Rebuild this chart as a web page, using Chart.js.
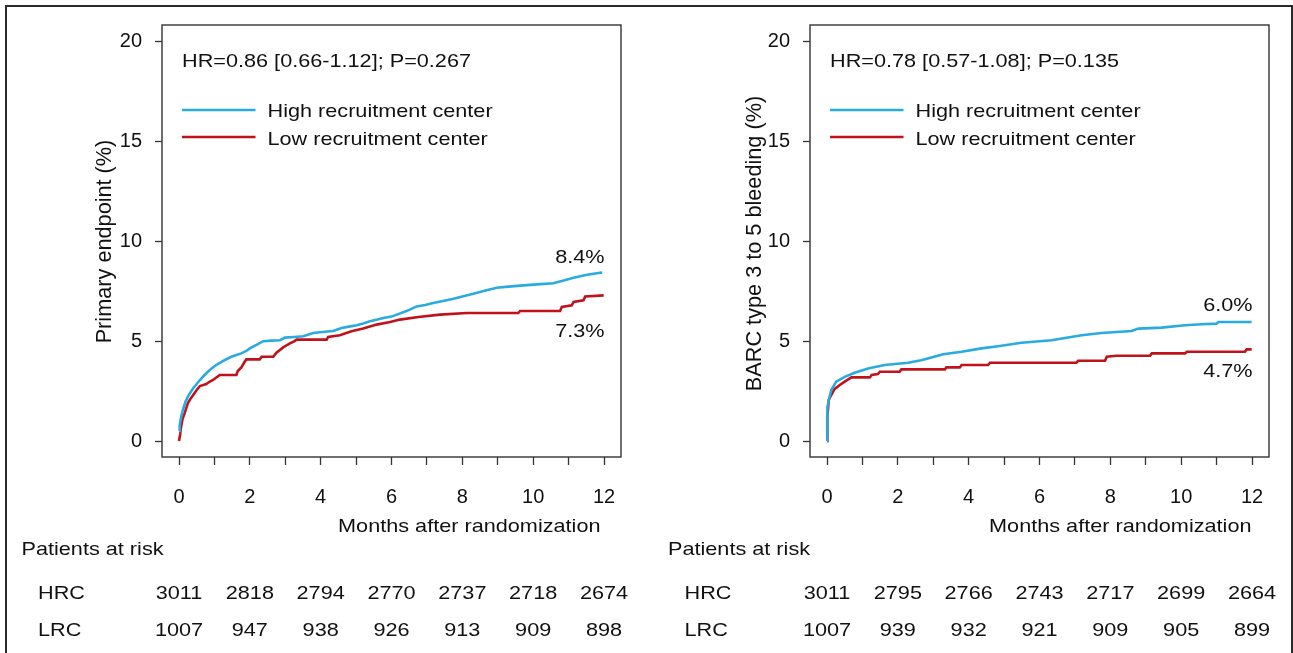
<!DOCTYPE html>
<html>
<head>
<meta charset="utf-8">
<script src="https://cdn.jsdelivr.net/npm/chart.js@4.4.1/dist/chart.umd.min.js"></script>
<style>
html,body{margin:0;padding:0;background:#fff;}
#wrap{position:relative;width:1293px;height:653px;overflow:hidden;background:#fff;}
#frame{position:absolute;left:5px;top:5px;width:1284px;height:700px;border:2px solid #2a2a2a;}
canvas{position:absolute;top:0;}
#c1{left:0;}
#c2{left:648px;}
</style>
</head>
<body>
<div id="wrap">
  <div id="frame"></div>
  <canvas id="c1" width="648" height="653"></canvas>
  <canvas id="c2" width="645" height="653"></canvas>
</div>
<script>
// ---------- DATA ----------
const xTicks = [0,1,2,3,4,5,6,7,8,9,10,11,12];
const yTicks = [0,5,10,15,20];
const seriesNames = ['High recruitment center', 'Low recruitment center'];
const riskRowNames = ['HRC', 'LRC'];
const riskTimes = [0,2,4,6,8,10,12];

// Panel A: Primary endpoint
const aTitleY = 'Primary endpoint (%)';
const aHR = 'HR=0.86 [0.66-1.12]; P=0.267';
const aEndLabels = ['8.4%', '7.3%'];
const aHighT = [0,0.02,0.06,0.11,0.18,0.25,0.33,0.4,0.5,0.59,0.75,0.92,1.05,1.2,1.35,1.48,1.62,1.76,1.9,2.0,2.2,2.38,2.6,2.85,2.99,3.25,3.51,3.79,4.05,4.35,4.59,4.8,5.02,5.2,5.39,5.6,5.77,6.0,6.15,6.35,6.52,6.71,6.95,7.18,7.45,7.75,8.0,8.31,8.6,8.97,9.3,9.73,10.1,10.57,10.86,11.14,11.52,11.89,11.95];
const aHighV = [0.5,0.8,1.2,1.56,1.95,2.22,2.45,2.64,2.85,3.05,3.35,3.63,3.8,3.96,4.1,4.21,4.3,4.38,4.5,4.63,4.82,4.99,5.02,5.04,5.17,5.2,5.24,5.4,5.45,5.5,5.65,5.72,5.79,5.88,5.99,6.07,6.15,6.22,6.32,6.45,6.57,6.73,6.8,6.9,7.0,7.11,7.22,7.36,7.5,7.66,7.72,7.78,7.83,7.89,8.02,8.16,8.31,8.41,8.42];
const aLowT = [0,0.03,0.06,0.1,0.16,0.25,0.32,0.4,0.5,0.59,0.77,0.85,0.96,1.15,1.62,1.66,1.76,1.85,1.9,2.28,2.33,2.66,2.75,2.85,2.94,3.05,3.13,3.25,3.32,4.17,4.21,4.54,4.87,5.2,5.58,5.96,6.24,6.76,7.37,8.13,9.58,9.63,10.76,10.81,11.09,11.14,11.42,11.47,11.99];
const aLowV = [0,0.3,0.73,1.1,1.39,1.89,2.1,2.3,2.55,2.75,2.85,2.95,3.05,3.3,3.3,3.5,3.68,3.95,4.08,4.08,4.21,4.21,4.41,4.55,4.68,4.8,4.88,4.98,5.07,5.07,5.2,5.29,5.49,5.62,5.82,5.95,6.07,6.2,6.32,6.4,6.4,6.5,6.5,6.7,6.78,6.95,7.03,7.23,7.28];
const aRiskHRC = [3011,2818,2794,2770,2737,2718,2674];
const aRiskLRC = [1007,947,938,926,913,909,898];

// Panel B: BARC type 3 to 5 bleeding
const bTitleY = 'BARC type 3 to 5 bleeding (%)';
const bHR = 'HR=0.78 [0.57-1.08]; P=0.135';
const bEndLabels = ['6.0%', '4.7%'];
const bHighT = [0,0.005,0.02,0.05,0.12,0.26,0.5,0.78,1.16,1.63,2.29,2.66,2.95,3.28,3.8,4.36,4.83,5.49,6.34,7.19,7.75,8.6,8.79,9.45,10.11,10.58,11.0,11.05,11.99];
const bHighV = [0,1.14,1.7,2.05,2.55,2.97,3.21,3.41,3.63,3.8,3.91,4.04,4.18,4.34,4.46,4.63,4.74,4.91,5.04,5.29,5.4,5.5,5.62,5.67,5.79,5.84,5.87,5.95,5.95];
const bLowT = [0,0.01,0.05,0.12,0.21,0.36,0.5,0.69,1.21,1.26,1.44,1.49,2.05,2.1,3.33,3.37,3.75,3.8,4.55,4.6,7.04,7.09,7.85,7.9,8.17,9.12,9.17,10.11,10.16,11.8,11.85,11.99];
const bLowV = [0,1.22,2.05,2.3,2.59,2.8,2.97,3.18,3.18,3.3,3.35,3.46,3.46,3.58,3.58,3.68,3.68,3.8,3.8,3.91,3.91,4.01,4.01,4.21,4.26,4.26,4.38,4.38,4.46,4.46,4.58,4.58];
const bRiskHRC = [3011,2795,2766,2743,2717,2699,2664];
const bRiskLRC = [1007,939,932,921,909,905,899];

const xAxisTitle = 'Months after randomization';
const riskTitle = 'Patients at risk';

// ---------- STYLE ----------
const FONT = '"Liberation Sans", Arial, Helvetica, sans-serif';
const BLUE = '#29abe2';
const RED = '#c0121a';
const INK = '#111111';
const SX = 1.14;      // horizontal text stretch of the reference
const TXT = 19;

function pts(t, v) { return t.map((x, i) => ({x: x, y: v[i]})); }

function txt(ctx, s, x, y, align, size, sx) {
  ctx.save();
  ctx.font = size + 'px ' + FONT;
  ctx.fillStyle = INK;
  ctx.textBaseline = 'alphabetic';
  ctx.textAlign = align;
  ctx.translate(x, y);
  ctx.scale(sx, 1);
  ctx.fillText(s, 0, 0);
  ctx.restore();
}

function decor(p) {
  return {
    id: 'decor',
    afterDraw(chart) {
      const ctx = chart.ctx, a = chart.chartArea, xs = chart.scales.x;
      ctx.save();
      ctx.strokeStyle = '#333';
      ctx.lineWidth = 1.4;
      ctx.strokeRect(a.left, a.top, a.right - a.left, a.bottom - a.top);
      // HR text
      txt(ctx, p.hr, a.left + 20, 66.5, 'left', TXT, SX);
      // legend
      ctx.lineWidth = 2.6;
      ctx.strokeStyle = BLUE;
      ctx.beginPath(); ctx.moveTo(a.left + 20, 110); ctx.lineTo(a.left + 93.5, 110); ctx.stroke();
      ctx.strokeStyle = RED;
      ctx.beginPath(); ctx.moveTo(a.left + 20, 137); ctx.lineTo(a.left + 93.5, 137); ctx.stroke();
      txt(ctx, seriesNames[0], a.left + 105.5, 117, 'left', TXT, SX);
      txt(ctx, seriesNames[1], a.left + 105.5, 145, 'left', TXT, SX);
      // end labels
      const x12 = xs.getPixelForValue(12);
      txt(ctx, p.end[0], x12 + 0.5, p.endY[0], 'right', TXT, SX);
      txt(ctx, p.end[1], x12 + 0.5, p.endY[1], 'right', TXT, SX);
      // x axis title
      txt(ctx, xAxisTitle, x12 + p.monthsDx, 531.5, 'right', TXT, SX);
      // y axis title (rotated)
      ctx.save();
      ctx.font = '21.7px ' + FONT;
      ctx.fillStyle = INK;
      ctx.textAlign = 'center';
      ctx.textBaseline = 'alphabetic';
      ctx.translate(p.yTitleX, p.yTitleY);
      ctx.rotate(-Math.PI / 2);
      ctx.fillText(p.yTitle, 0, 0);
      ctx.restore();
      // risk table
      txt(ctx, riskTitle, p.riskX, 555, 'left', TXT, SX);
      txt(ctx, riskRowNames[0], p.riskX + 16.5, 599.3, 'left', TXT, SX);
      txt(ctx, riskRowNames[1], p.riskX + 16.5, 636, 'left', TXT, SX);
      riskTimes.forEach((t, i) => {
        const x = xs.getPixelForValue(t);
        txt(ctx, String(p.hrc[i]), x, 599.3, 'center', TXT, SX);
        txt(ctx, String(p.lrc[i]), x, 636, 'center', TXT, SX);
      });
      ctx.restore();
    }
  };
}

function makeChart(id, p, rightPad) {
  const tickFont = {family: FONT, size: 20};
  return new Chart(document.getElementById(id), {
    type: 'line',
    data: {
      datasets: [
        {label: seriesNames[0], data: pts(p.hiT, p.hiV), borderColor: BLUE, borderWidth: 2.6, pointRadius: 0, tension: 0, fill: false},
        {label: seriesNames[1], data: pts(p.loT, p.loV), borderColor: RED, borderWidth: 2.6, pointRadius: 0, tension: 0, fill: false}
      ]
    },
    options: {
      responsive: false,
      animation: false,
      devicePixelRatio: 1,
      events: [],
      layout: {padding: {left: 0, top: 24, right: rightPad, bottom: 0}},
      plugins: {legend: {display: false}, tooltip: {enabled: false}, title: {display: false}},
      scales: {
        x: {
          type: 'linear', min: -0.48, max: 12.48, offset: false,
          afterBuildTicks: s => { s.ticks = xTicks.map(v => ({value: v})); },
          afterFit: s => { s.height = 196; },
          ticks: {autoSkip: false, maxRotation: 0, padding: 20, color: INK, font: tickFont,
                  callback: v => (v % 2 === 0 ? String(v) : '')},
          grid: {display: true, drawOnChartArea: false, drawTicks: true, tickLength: 8, tickColor: '#333', tickWidth: 1.3},
          border: {display: false}
        },
        y: {
          type: 'linear', min: -0.8, max: 20.8,
          afterBuildTicks: s => { s.ticks = yTicks.map(v => ({value: v})); },
          afterFit: s => { s.width = 162; },
          ticks: {padding: 13, color: INK, font: tickFont, callback: v => String(v)},
          grid: {display: true, drawOnChartArea: false, drawTicks: true, tickLength: 7, tickColor: '#333', tickWidth: 1.3},
          border: {display: false}
        }
      }
    },
    plugins: [decor(p)]
  });
}

makeChart('c1', {
  hiT: aHighT, hiV: aHighV, loT: aLowT, loV: aLowV,
  hr: aHR, end: aEndLabels, endY: [262.5, 337],
  yTitle: aTitleY, yTitleX: 111, yTitleY: 241.5,
  monthsDx: -3.5, riskX: 21.5, hrc: aRiskHRC, lrc: aRiskLRC
}, 27);

makeChart('c2', {
  hiT: bHighT, hiV: bHighV, loT: bLowT, loV: bLowV,
  hr: bHR, end: bEndLabels, endY: [311, 376.5],
  yTitle: bTitleY, yTitleX: 112.7, yTitleY: 243.5,
  monthsDx: -0.5, riskX: 20, hrc: bRiskHRC, lrc: bRiskLRC
}, 24);
</script>
</body>
</html>
